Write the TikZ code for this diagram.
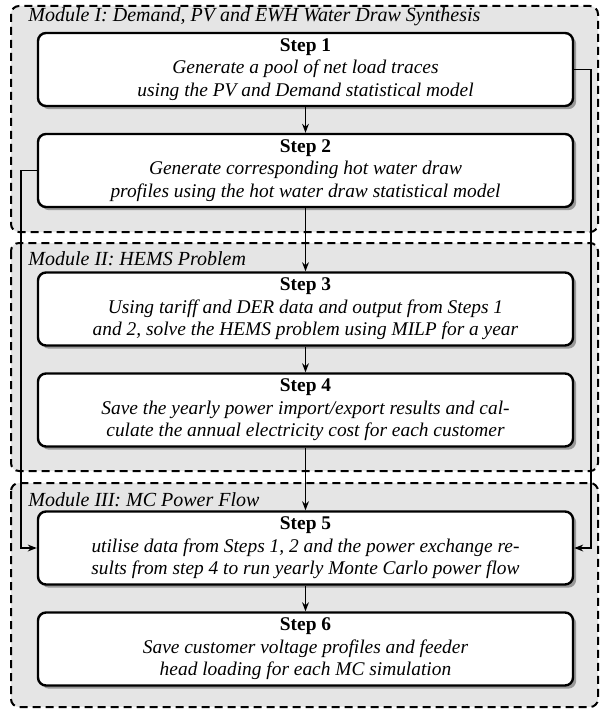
\documentclass[tikz,border=0pt]{standalone}
\usepackage{fontspec}
\setmainfont{Liberation Serif}
\usetikzlibrary{arrows.meta,shadows,positioning}

\tikzset{
  module/.style={draw, line width=1pt, dash pattern=on 4pt off 2.5pt, rounded corners=4pt, fill=black!10},
  modtitle/.style={anchor=west, inner sep=0pt, font=\itshape},
  stepbox/.style={draw, line width=1.2pt, rounded corners=4pt, fill=white, align=center,
    minimum width=267.5pt, minimum height=36.5pt, inner sep=1pt,
    drop shadow={shadow xshift=1.6pt, shadow yshift=-1.6pt, fill=black!40, opacity=1}},
  conn/.style={line width=0.85pt, -{Stealth[length=4.5pt, width=3.4pt]}}
}

\begin{document}
\begin{tikzpicture}[x=0.5pt, y=-0.5pt, font=\fontsize{9.7}{11.3}\selectfont]
  \useasboundingbox (0,0) rectangle (606,711);
  % Modules
  \def\modleftx{11}
  \def\modrightx{598}
  \def\stepx{305.5}

  \draw[module] (\modleftx, 6) rectangle (\modrightx, 232);
  \draw[module] (\modleftx, 243) rectangle (\modrightx, 471);
  \draw[module] (\modleftx, 483) rectangle (\modrightx, 707);
  \node[modtitle] (m1) at (28, 17) {Module I: Demand, PV and EWH Water Draw Synthesis};
  \node[modtitle] (m2) at (28, 259) {Module II: HEMS Problem};
  \node[modtitle] (m3) at (28, 500) {Module III: MC Power Flow};

  % Steps
  \node[stepbox] (s1) at (\stepx, 69.5) {\textbf{Step 1}\\ \textit{Generate a pool of net load traces}\\ \textit{using the PV and Demand statistical model}};
  \node[stepbox] (s2) at (\stepx, 170.5) {\textbf{Step 2}\\ \textit{Generate corresponding hot water draw}\\ \textit{profiles using the hot water draw statistical model}};
  \node[stepbox] (s3) at (\stepx, 309) {\textbf{Step 3}\\ \textit{Using tariff and DER data and output from Steps 1}\\ \textit{and 2, solve the HEMS problem using MILP for a year}};
  \node[stepbox] (s4) at (\stepx, 410) {\textbf{Step 4}\\ \textit{Save the yearly power import/export results and cal-}\\ \textit{culate the annual electricity cost for each customer}};
  \node[stepbox] (s5) at (\stepx, 548) {\textbf{Step 5}\\ \textit{utilise data from Steps 1, 2 and the power exchange re-}\\ \textit{sults from step 4 to run yearly Monte Carlo power flow}};
  \node[stepbox] (s6) at (\stepx, 649) {\textbf{Step 6}\\ \textit{Save customer voltage profiles and feeder}\\ \textit{head loading for each MC simulation}};

  % Connectors
  \coordinate (lft) at (21, 0);
  \coordinate (rgt) at (591, 0);
  \draw[conn] (s1) -- (s2);
  \draw[conn] (s2) -- (s3);
  \draw[conn] (s3) -- (s4);
  \draw[conn] (s4) -- (s5);
  \draw[conn] (s5) -- (s6);
  \draw[conn] (s1.east) -- (s1.east -| rgt) |- (s5.east);
  \draw[conn] (s2.west) -- (s2.west -| lft) |- (s5.west);
\end{tikzpicture}
\end{document}
